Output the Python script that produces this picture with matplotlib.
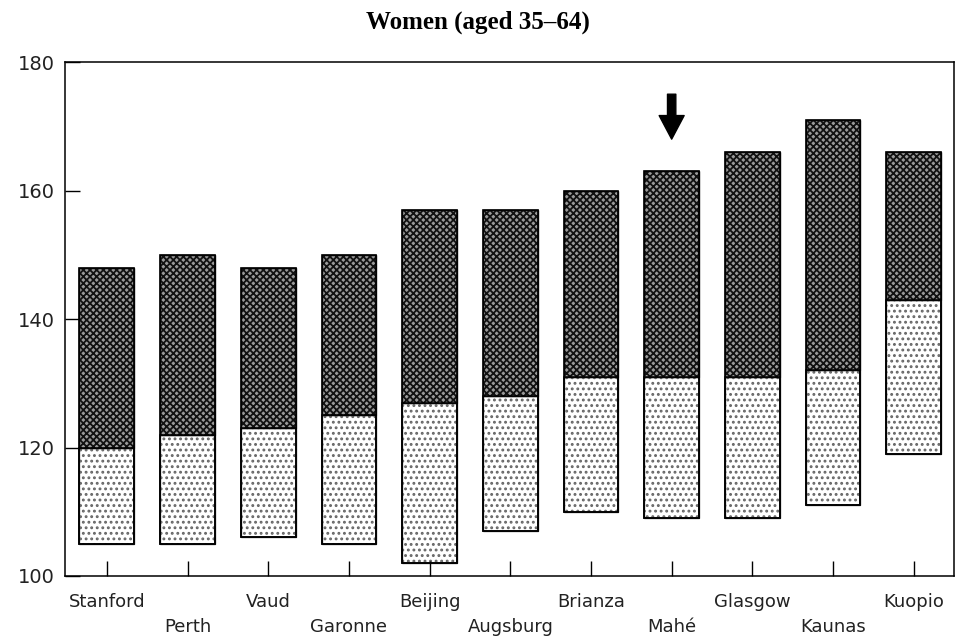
import matplotlib
matplotlib.use("Agg")
import matplotlib.pyplot as plt
import numpy as np

categories = ["Stanford", "Perth", "Vaud", "Garonne", "Beijing", "Augsburg",
              "Brianza", "Mahé", "Glasgow", "Kaunas", "Kuopio"]
low_vals = [105, 105, 106, 105, 102, 107, 110, 109, 109, 111, 119]
mid_vals = [120, 122, 123, 125, 127, 128, 131, 131, 131, 132, 143]
high_vals = [148, 150, 148, 150, 157, 157, 160, 163, 166, 171, 166]
y_ticks = [100, 120, 140, 160, 180]
highlight = "Mahé"
title = "Women (aged 35\u201364)"

plt.rcParams['hatch.linewidth'] = 1.3
fig = plt.figure(figsize=(9.55, 6.44), dpi=100)
ax = fig.add_axes([0.068, 0.1056, 0.931, 0.798])

x = np.arange(len(categories))
low = np.array(low_vals)
mid = np.array(mid_vals)
high = np.array(high_vals)

ax.bar(x, mid - low, bottom=low, width=0.68, facecolor="white",
       edgecolor="#666666", hatch="...", linewidth=1.0)
ax.bar(x, high - mid, bottom=mid, width=0.68, facecolor="#9a9a9a",
       edgecolor="#111111", hatch="xxxxx", linewidth=1.0)
ax.bar(x, high - low, bottom=low, width=0.68, facecolor="none",
       edgecolor="black", linewidth=1.2)
ax.bar(x, mid - low, bottom=low, width=0.68, facecolor="none",
       edgecolor="black", linewidth=1.1)

ax.set_xlim(-0.52, len(categories) - 0.5)
ax.set_ylim(100, 180)
ax.set_yticks(y_ticks)
ax.set_yticklabels([str(v) for v in y_ticks], fontsize=14,
                   family="DejaVu Sans", color="#222222")
ax.set_xticks(x)
labels = [c if i % 2 == 0 else "\n" + c for i, c in enumerate(categories)]
ax.set_xticklabels(labels, fontsize=13, family="DejaVu Sans",
                   color="#222222", linespacing=1.55)
ax.tick_params(axis="both", direction="in", length=11, width=1.0)
ax.tick_params(axis="x", pad=12)
ax.tick_params(axis="y", pad=7)
for s in ax.spines.values():
    s.set_linewidth(1.1)

hi = categories.index(highlight)
ax.annotate("", xy=(x[hi], high[hi] + 5), xytext=(x[hi], high[hi] + 12),
            arrowprops=dict(facecolor="black", edgecolor="black",
                            width=6, headwidth=18, headlength=17))

fig.text(0.5, 0.965, title, ha="center", va="center", fontsize=18,
         fontweight="bold", family="Liberation Serif")

fig.savefig("out.png", dpi=100)
